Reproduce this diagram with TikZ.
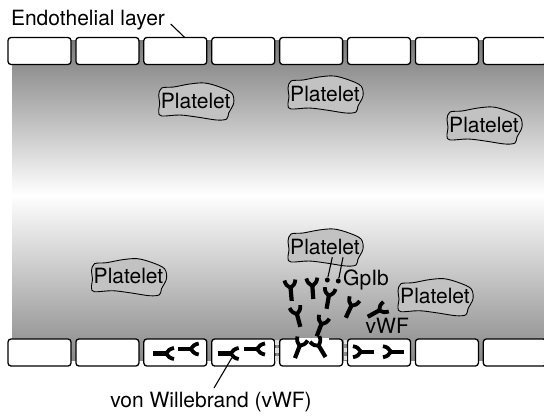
\documentclass[tikz,border=0pt]{standalone}
\usepackage{fontspec}
\setmainfont{TeX Gyre Heros}
\usepackage{tikz}
\usetikzlibrary{shapes.geometric, arrows}
\definecolor{wallgray}{gray}{0.48}
\definecolor{bloodgray}{gray}{0.54}
\tikzstyle{cell} = [draw, fill=white, line width=1.3pt, rounded corners=3pt, minimum width=63pt, minimum height=27pt, inner sep=0pt, outer sep=0pt]
\tikzstyle{label} = [anchor=base, inner sep=0pt, font=\fontsize{21}{23}\selectfont]
\tikzstyle{lead} = [line width=1.1pt]
\tikzstyle{dot} = [circle, fill=black, minimum size=5pt, inner sep=0pt]
\tikzset{
  pics/vwf/.style={code={
    \draw[line width=4.2pt] (0,14) -- (0,-1);
    \draw[line width=3.8pt] (-5.5,-7) .. controls (-5,-3.5) and (-3,-0.5) .. (0,1) .. controls (3,-0.5) and (5,-3.5) .. (5.5,-7);
  }},
  pics/blob/.style={code={
    \draw[fill=black!24, line width=0.9pt] plot[smooth cycle, tension=0.55] coordinates {(-37,-6) (-34,-13) (-22,-14) (-6,-17) (9,-18) (24,-14) (36,-8) (38,2) (33,12) (31,18) (21,19) (1,16) (-16,14) (-34,15) (-37,11) (-36,2)};
  }}
}

\begin{document}
\begin{tikzpicture}[x=1pt, y=-1pt]
    \useasboundingbox (0,0) rectangle (544,416);

    % Vessel
    \shade[top color=wallgray, bottom color=white] (12,40) rectangle (544,195);
    \shade[top color=white, bottom color=bloodgray] (12,195) rectangle (544,360);

    % Cells
    \foreach \i in {1,...,8} {
        \node[cell] (cellT\i) at ({39.5+67.9*(\i-1)},51) {};
        \node[cell] (cellB\i) at ({39.5+67.9*(\i-1)},352.5) {};
    }

    % Torn wall around the fifth cell
    \draw[white!75!gray, line width=3.5pt, dash pattern=on 5pt off 3pt] (277,340) -- (277,362);
    \draw[white!75!gray, line width=3.5pt, dash pattern=on 4pt off 4pt] (345.5,340) -- (345.5,362);
    \draw[white, line width=2pt] (296,339) -- (329,339);

    % Platelets
    \foreach \name/\x/\y in {one/195.7/101, two/325/94, three/484/125, four/128.5/276.7, five/325/247, six/435/296.7} {
        \pic at (\x,\y) {blob};
        \node[label] (platelet\name) at (\x,\y+7) {Platelet};
    }

    % Free receptors
    \pic[rotate=5] at (290.5,287) {vwf};
    \pic[rotate=4] at (312.3,285) {vwf};
    \pic[rotate=-10] at (329,295) {vwf};
    \pic[rotate=-25] at (351.7,305) {vwf};
    \pic[rotate=15] at (296.7,313.3) {vwf};
    \pic[rotate=-21] at (321.7,323.3) {vwf};
    \pic[rotate=-61] at (380,310) {vwf};

    % Receptors on the cells
    \pic[rotate=-21] at (300,345) {vwf};
    \pic[rotate=31] at (318.3,345) {vwf};
    \foreach \x/\y/\r in {167/353.5/-90, 191.7/349/-90, 231.7/353.5/-90, 258/349/-90, 360/351.7/90, 390/351.7/90} {
        \pic[rotate=\r] at (\x,\y) {vwf};
    }

    % Labels
    \node[label] (endo) at (88,25) {Endothelial layer};
    \node[label] (gpib) at (366,285.3) {GpIb};
    \node[label] (vwf) at (387.3,333) {vWF};
    \node[label] (willebrand) at (211,407) {von Willebrand (vWF)};

    % Edges
    \coordinate (endotail) at (170.7,24);
    \draw[lead] (endotail) -- (cellT3.55);
    \coordinate (willtail) at (214,388);
    \coordinate (willhead) at (231.7,358);
    \draw[lead] (willtail) -- (willhead);
    \node[dot] (dotA) at (327.3,280) {};
    \node[dot] (dotB) at (338.3,281) {};
    \coordinate (stemA) at (332.3,257.3);
    \coordinate (stemB) at (343,257.3);
    \draw[lead] (stemA) -- (dotA);
    \draw[lead] (stemB) -- (dotB);
\end{tikzpicture}
\end{document}
